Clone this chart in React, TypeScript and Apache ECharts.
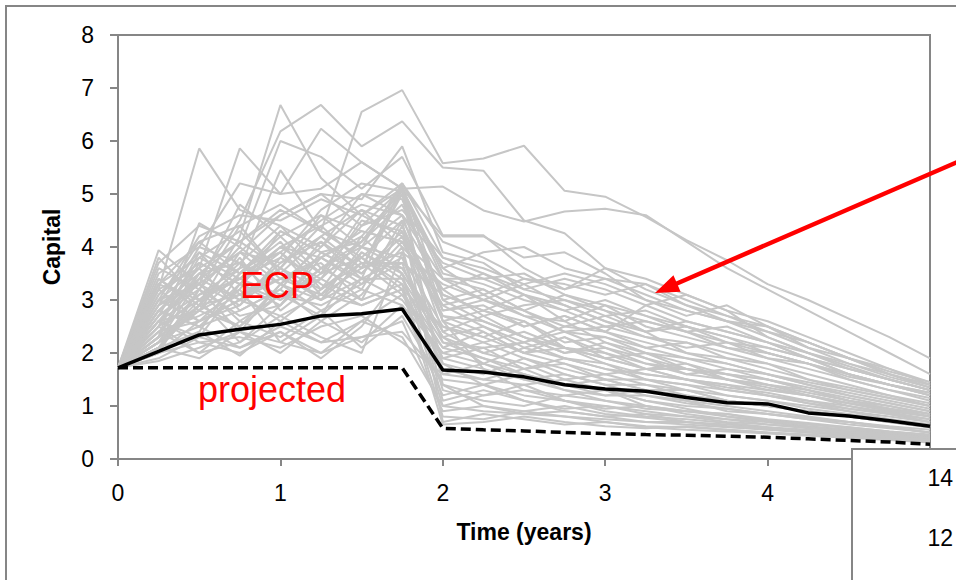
import React, { useEffect, useRef } from "react";
import * as echarts from "echarts";

const times = [0, 0.25, 0.5, 0.75, 1, 1.25, 1.5, 1.75, 2, 2.25, 2.5, 2.75, 3, 3.25, 3.5, 3.75, 4, 4.25, 4.5, 4.75, 5];

const ecp = [1.72, 2.03, 2.34, 2.45, 2.54, 2.70, 2.74, 2.83, 1.68, 1.64, 1.55, 1.40, 1.32, 1.28, 1.16, 1.06, 1.04, 0.87, 0.81, 0.72, 0.62];
const projected = [1.72, 1.72, 1.72, 1.72, 1.72, 1.72, 1.72, 1.72, 0.58, 0.55, 0.53, 0.50, 0.48, 0.46, 0.45, 0.43, 0.41, 0.38, 0.35, 0.32, 0.28];

const paths: number[][] = [
  [1.72,2.40,3.10,3.60,5.45,4.30,6.55,6.96,5.58,5.67,5.91,5.06,4.95,4.57,4.13,3.75,3.30,3.00,2.65,2.30,1.90],
  [1.72,2.10,2.90,4.20,6.68,5.30,4.60,5.20,3.80,3.50,3.10,2.90,2.60,2.40,2.50,2.20,2.00,1.80,1.50,1.30,1.10],
  [1.72,2.60,3.40,4.50,6.18,6.68,5.90,6.37,5.50,5.44,4.50,4.26,3.60,3.20,2.90,2.70,2.40,2.10,1.90,1.70,1.45],
  [1.72,3.20,5.86,4.70,4.40,3.60,4.10,4.80,3.10,2.80,2.60,2.10,1.90,1.70,1.50,1.40,1.20,1.05,0.95,0.85,0.70],
  [1.72,2.80,3.60,5.86,5.00,6.23,5.60,5.10,5.14,4.69,4.48,4.67,4.72,4.60,4.10,3.60,3.20,2.80,2.40,2.00,1.60],
  [1.72,3.94,3.30,2.60,3.10,2.70,3.90,3.40,2.20,1.90,1.60,1.40,1.30,1.10,0.95,0.80,0.70,0.62,0.55,0.48,0.40],
  [1.72,2.30,4.45,4.00,6.00,5.70,5.10,5.70,4.22,4.22,3.60,3.20,3.60,3.40,3.10,2.80,2.60,2.30,2.00,1.70,1.40],
  [1.72,3.50,4.00,5.20,5.00,5.10,5.60,5.10,4.20,4.20,3.80,3.90,3.50,3.00,2.80,2.60,2.40,2.20,1.90,1.60,1.35],
  [1.72,2.20,2.80,3.90,4.60,5.00,4.90,5.90,3.90,3.70,3.20,3.40,3.20,2.90,3.10,2.80,2.30,2.00,1.70,1.50,1.30],
  [1.72,3.00,4.20,4.60,4.50,4.90,4.60,5.10,3.60,3.90,4.00,3.60,3.40,3.30,3.00,2.70,2.50,2.10,1.80,1.60,1.40],
  [1.72,2.50,3.80,3.40,4.00,3.80,4.20,5.05,3.40,3.20,2.80,2.50,2.40,2.90,2.60,2.40,2.20,1.90,1.60,1.40,1.20],
  [1.72,2.00,2.60,3.00,3.70,4.20,3.60,5.15,3.00,2.60,2.30,2.00,2.20,1.90,1.70,1.60,1.50,1.30,1.10,0.95,0.80],
  [1.72,3.40,2.90,3.80,2.80,3.40,4.10,5.00,2.80,2.90,2.50,2.70,2.40,2.20,2.00,1.80,1.60,1.40,1.20,1.05,0.90],
  [1.72,2.70,3.20,2.40,3.30,3.00,4.00,3.80,2.50,2.20,2.40,2.10,1.80,1.60,1.50,1.40,1.30,1.20,1.00,0.85,0.70],
  [1.72,1.90,2.30,2.10,2.50,2.20,2.60,3.10,1.90,1.70,1.50,1.60,1.40,1.20,1.10,1.00,0.90,0.80,0.70,0.60,0.50],
  [1.72,2.00,2.40,1.95,2.60,2.20,2.30,2.40,1.50,1.40,1.60,1.30,1.20,1.30,1.10,0.90,0.85,0.75,0.70,0.60,0.50],
  [1.72,2.20,3.00,2.20,2.90,3.80,3.30,4.10,2.70,2.40,2.00,2.30,2.00,1.70,1.80,1.50,1.40,1.30,1.10,1.00,0.85],
  [1.72,3.10,3.70,3.30,3.90,3.10,3.60,3.90,3.30,3.00,3.30,2.90,2.60,2.30,2.10,2.20,1.90,1.70,1.50,1.30,1.15],
  [1.72,1.85,2.10,2.40,2.00,2.60,2.20,2.90,1.20,1.40,1.20,1.10,0.95,1.00,0.85,0.75,0.70,0.60,0.55,0.50,0.42],
  [1.72,2.60,2.20,2.00,2.40,1.90,2.50,3.50,2.30,2.00,1.80,1.50,1.60,1.40,1.30,1.10,1.00,0.90,0.80,0.70,0.60],
  [1.72,2.30,3.50,4.10,3.60,4.60,4.00,4.60,3.70,3.40,3.50,3.10,2.80,2.60,2.40,2.50,2.20,2.00,1.80,1.55,1.35],
  [1.72,3.30,4.10,3.50,4.30,3.90,3.50,4.20,2.90,3.10,2.70,2.60,2.90,2.50,2.30,2.10,1.90,1.80,1.60,1.40,1.25],
  [1.72,2.80,2.50,3.20,2.20,2.70,3.40,3.00,2.00,1.80,2.10,1.90,1.70,1.50,1.40,1.20,1.10,1.00,0.90,0.75,0.65],
  [1.72,2.00,2.20,2.30,2.10,2.50,2.70,2.20,1.60,1.80,1.50,1.30,1.10,1.00,0.90,0.85,0.75,0.68,0.60,0.52,0.45],
  [1.72,3.60,3.20,4.40,3.50,4.20,4.70,4.00,3.20,2.70,2.90,3.00,2.70,2.80,2.50,2.30,2.10,1.90,1.60,1.40,1.25],
  [1.72,2.50,3.90,3.10,3.40,3.70,3.00,4.40,2.60,2.30,2.60,2.20,2.30,2.00,1.90,1.70,1.60,1.40,1.25,1.10,0.95],
  [1.72,2.10,2.40,3.50,4.10,3.20,3.80,3.30,2.10,2.40,2.00,1.80,1.60,1.70,1.50,1.30,1.20,1.05,0.90,0.80,0.70],
  [1.72,3.20,2.60,2.90,3.60,4.40,3.70,3.70,3.10,2.80,2.50,2.70,2.40,2.10,2.20,1.90,1.80,1.60,1.40,1.20,1.00],
  [1.72,2.70,3.30,4.80,4.20,3.50,4.40,5.10,3.50,3.30,3.00,2.80,3.00,2.70,2.50,2.30,2.00,1.80,1.55,1.40,1.20],
  [1.72,2.40,2.00,2.60,2.30,2.80,2.10,2.70,1.40,1.20,1.30,1.10,1.00,0.90,0.80,0.75,0.65,0.60,0.52,0.45,0.38],
  [1.72,3.80,3.00,3.70,4.40,4.00,5.00,4.60,2.40,2.70,2.30,2.00,2.10,1.90,1.60,1.50,1.40,1.20,1.05,0.90,0.80],
  [1.72,2.20,3.40,3.00,2.70,3.10,2.90,3.20,1.80,1.60,1.90,1.70,1.50,1.30,1.30,1.10,1.00,0.90,0.80,0.70,0.60],
  [1.72,2.90,4.10,4.40,4.80,4.30,4.00,5.20,4.10,3.80,3.40,3.30,3.10,3.30,2.90,2.60,2.50,2.20,1.90,1.65,1.45],
  [1.72,2.60,2.30,3.30,3.00,3.50,4.60,4.20,2.20,2.10,1.70,1.90,1.80,1.50,1.40,1.30,1.20,1.10,0.95,0.85,0.75],
  [1.72,3.00,3.60,2.80,3.20,4.10,3.40,3.40,1.70,1.50,1.40,1.50,1.30,1.10,1.00,0.95,0.85,0.75,0.65,0.58,0.50],
  [1.72,2.30,2.90,3.60,3.90,4.50,5.00,4.90,3.00,3.20,2.80,2.40,2.50,2.30,2.20,2.00,1.80,1.50,1.35,1.20,1.05],
  [1.72,3.30,3.80,4.30,3.50,3.00,3.70,3.60,2.40,2.00,2.20,2.40,2.10,1.80,1.60,1.70,1.50,1.30,1.15,1.00,0.85],
  [1.72,2.10,1.90,2.40,2.20,2.00,2.60,2.30,1.00,0.90,0.85,0.80,0.75,0.70,0.65,0.60,0.55,0.50,0.45,0.40,0.35],
  [1.72,2.80,3.40,3.90,3.30,3.80,4.30,4.10,2.90,2.50,2.20,2.50,2.70,2.40,2.00,1.90,1.70,1.50,1.30,1.15,1.00],
  [1.72,2.50,2.00,2.20,2.70,2.30,2.00,3.90,1.30,1.10,1.00,1.20,1.10,0.95,0.90,0.80,0.72,0.65,0.58,0.50,0.45],
  [1.72,3.70,4.40,4.10,4.60,5.00,4.40,4.70,3.80,3.60,3.30,3.50,3.30,3.00,2.70,2.90,2.50,2.20,1.90,1.60,1.40],
  [1.72,2.90,3.50,3.70,3.00,3.60,3.20,2.90,2.00,2.20,1.90,1.60,1.40,1.40,1.20,1.10,1.00,0.90,0.80,0.70,0.62],
  [1.72,2.30,2.80,3.20,4.30,3.90,4.10,5.10,2.60,2.80,3.10,2.60,2.20,2.00,1.80,1.60,1.50,1.35,1.20,1.05,0.90],
  [1.72,3.40,2.80,2.50,3.10,3.40,3.00,3.30,0.80,0.75,0.90,0.80,0.70,0.62,0.60,0.55,0.50,0.46,0.42,0.38,0.33],
  [1.72,2.60,3.10,3.40,3.80,4.70,5.20,5.05,3.60,3.10,3.40,3.20,3.40,3.10,2.80,2.60,2.30,2.00,1.75,1.50,1.30],
  [1.72,2.10,3.20,4.00,3.40,3.10,3.90,3.50,2.30,2.50,2.10,2.30,1.90,1.70,1.70,1.50,1.30,1.20,1.05,0.95,0.80],
  [1.72,2.80,2.50,2.80,3.20,2.60,3.10,4.00,1.10,1.30,1.10,0.95,1.00,0.85,0.80,0.70,0.65,0.58,0.52,0.47,0.40],
  [1.72,3.10,3.90,3.50,4.20,4.60,4.30,4.10,3.40,3.40,3.10,2.80,2.50,2.60,2.40,2.10,2.00,1.80,1.60,1.40,1.20],
  [1.72,2.40,2.70,3.10,2.60,3.20,3.70,3.10,2.10,1.90,1.70,1.80,1.50,1.50,1.30,1.20,1.10,0.95,0.85,0.75,0.65],
  [1.72,2.90,3.30,2.90,3.80,3.40,4.50,4.30,2.70,2.60,2.30,2.10,2.00,1.80,1.70,1.60,1.40,1.25,1.10,0.95,0.85],
  [1.72,2.20,2.50,2.10,2.40,2.00,2.30,2.60,0.90,1.00,0.85,0.90,0.80,0.70,0.70,0.62,0.56,0.50,0.45,0.40,0.35],
  [1.72,3.20,3.60,4.10,4.70,4.30,3.80,4.50,3.20,3.50,3.20,3.00,2.80,2.40,2.60,2.40,2.20,1.90,1.70,1.50,1.30],
  [1.72,2.50,3.00,3.40,3.10,2.90,3.30,3.70,1.60,1.50,1.70,1.40,1.20,1.20,1.05,0.95,0.85,0.78,0.70,0.62,0.55],
  [1.72,2.70,4.00,3.70,3.30,4.00,4.70,4.40,2.80,3.00,2.70,2.40,2.30,2.10,1.90,1.80,1.60,1.45,1.30,1.15,1.00],
  [1.72,3.00,2.60,3.00,3.40,3.80,3.40,3.80,1.90,2.10,2.20,1.90,1.70,1.60,1.50,1.35,1.25,1.10,1.00,0.88,0.75],
  [1.72,2.30,3.70,3.30,4.00,4.40,4.80,4.60,3.40,3.00,2.80,3.10,2.90,2.70,2.40,2.20,2.10,1.90,1.70,1.50,1.30],
  [1.72,2.60,2.80,3.50,3.90,3.30,2.90,3.20,2.50,2.30,2.00,2.10,1.90,2.00,1.70,1.50,1.35,1.20,1.05,0.92,0.80],
  [1.72,2.00,3.20,2.70,2.90,3.60,4.00,3.60,2.30,1.80,1.60,1.40,1.50,1.30,1.20,1.10,1.00,0.90,0.80,0.70,0.60],
  [1.72,2.20,2.90,2.50,3.30,2.80,3.20,4.50,0.70,0.85,0.75,0.65,0.70,0.60,0.55,0.52,0.48,0.44,0.40,0.36,0.31],
  [1.72,3.00,3.30,3.90,3.70,4.10,3.60,5.00,1.40,1.00,0.90,1.00,0.85,0.78,0.70,0.65,0.60,0.52,0.48,0.42,0.37],
  [1.72,2.60,3.50,3.00,3.60,3.20,4.20,3.50,1.00,1.20,1.40,1.10,0.90,0.80,0.75,0.68,0.60,0.55,0.50,0.45,0.40],
  [1.72,2.40,2.60,3.30,2.90,3.90,3.50,4.30,1.80,1.40,1.10,0.90,0.80,0.85,0.70,0.62,0.58,0.52,0.46,0.41,0.36],
  [1.72,3.30,3.00,3.40,4.00,3.50,3.80,3.20,0.65,0.70,0.80,0.70,0.62,0.58,0.62,0.55,0.50,0.45,0.42,0.38,0.33],
  [1.72,2.10,2.90,3.10,3.60,3.00,3.40,5.10,2.60,1.70,1.30,1.20,1.30,1.00,0.90,0.85,0.72,0.65,0.60,0.52,0.46],
];

const xTicks = [0, 1, 2, 3, 4];
const insetTicks = ["14", "12"];

const SANS = "'Liberation Sans', Arial, sans-serif";

export default function App() {
  const ref = useRef<HTMLDivElement>(null);
  useEffect(() => {
    if (!ref.current) return;
    const chart = echarts.init(ref.current, null, { renderer: "svg" });
    const toPts = (vals: number[]) => vals.map((v, i) => [times[i], v]);
    const graySeries = paths.map((p, k) => ({
      name: "path" + k,
      type: "line",
      data: toPts(p),
      symbol: "none",
      silent: true,
      lineStyle: { color: "#c6c6c6", width: 2 },
      z: 2,
    }));

    const tip = [655, 293];
    const start = [962, 160];
    const dx = tip[0] - start[0];
    const dy = tip[1] - start[1];
    const len = Math.sqrt(dx * dx + dy * dy);
    const ux = dx / len, uy = dy / len;
    const headLen = 24, headHalf = 9;
    const bx = tip[0] - ux * headLen, by = tip[1] - uy * headLen;
    const px = -uy, py = ux;

    chart.setOption({
      animation: false,
      backgroundColor: "#ffffff",
      grid: {
        left: 118, top: 35, right: 26, bottom: 121,
        show: true, borderColor: "#868686", borderWidth: 2,
      },
      xAxis: {
        type: "value", min: 0, max: 5, interval: 1,
        name: "Time (years)", nameLocation: "middle", nameGap: 61,
        nameTextStyle: { fontFamily: SANS, fontWeight: "bold", fontSize: 23, color: "#000" },
        axisLine: { show: true, lineStyle: { color: "#868686", width: 2 } },
        axisTick: { show: true, length: 7, lineStyle: { color: "#868686", width: 2 } },
        axisLabel: { fontFamily: SANS, fontSize: 23, color: "#000", margin: 22,
          formatter: (v: number) => (xTicks.includes(v) ? String(v) : "") },
        splitLine: { show: false },
      },
      yAxis: {
        type: "value", min: 0, max: 8, interval: 1,
        name: "Capital", nameLocation: "middle", nameGap: 55, nameRotate: 90,
        nameTextStyle: { fontFamily: SANS, fontWeight: "bold", fontSize: 23, color: "#000" },
        axisLine: { show: true, lineStyle: { color: "#868686", width: 2 } },
        axisTick: { show: true, length: 8, lineStyle: { color: "#868686", width: 2 } },
        axisLabel: { fontFamily: SANS, fontSize: 23, color: "#000", margin: 24 },
        splitLine: { show: false },
      },
      series: [
        ...graySeries,
        {
          name: "ECP", type: "line", data: toPts(ecp), symbol: "none", silent: true,
          lineStyle: { color: "#000", width: 3.5 }, z: 5,
        },
        {
          name: "projected", type: "line", data: toPts(projected), symbol: "none", silent: true,
          lineStyle: { color: "#000", width: 3.5, type: [10, 5] }, z: 5,
        },
      ],
      graphic: [
        {
          type: "rect", shape: { x: 6, y: 6, width: 1000, height: 700 },
          style: { fill: "none", stroke: "#868686", lineWidth: 2 }, z: 1, silent: true,
        },
        {
          type: "text", x: 277, y: 285,
          style: { text: "ECP", fill: "#ff0000", font: `36px ${SANS}`, align: "center", verticalAlign: "middle" },
          z: 20,
        },
        {
          type: "text", x: 272, y: 389,
          style: { text: "projected", fill: "#ff0000", font: `36px ${SANS}`, align: "center", verticalAlign: "middle" },
          z: 20,
        },
        {
          type: "line", shape: { x1: start[0], y1: start[1], x2: bx + ux * 2, y2: by + uy * 2 },
          style: { stroke: "#ff0000", lineWidth: 4.5 }, z: 20,
        },
        {
          type: "polygon",
          shape: { points: [[tip[0], tip[1]], [bx + px * headHalf, by + py * headHalf], [bx - px * headHalf, by - py * headHalf]] },
          style: { fill: "#ff0000" }, z: 20,
        },
        {
          type: "rect", shape: { x: 852, y: 449, width: 200, height: 200 },
          style: { fill: "#ffffff", stroke: "#868686", lineWidth: 2 }, z: 30,
        },
        {
          type: "text", x: 953, y: 478,
          style: { text: insetTicks[0], fill: "#000", font: `23px ${SANS}`, align: "right", verticalAlign: "middle" },
          z: 31,
        },
        {
          type: "text", x: 953, y: 538,
          style: { text: insetTicks[1], fill: "#000", font: `23px ${SANS}`, align: "right", verticalAlign: "middle" },
          z: 31,
        },
      ],
    });
    return () => chart.dispose();
  }, []);
  return (
    <div
      ref={ref}
      style={{ position: "absolute", left: 0, top: 0, width: 956, height: 580, background: "#fff" }}
    />
  );
}
